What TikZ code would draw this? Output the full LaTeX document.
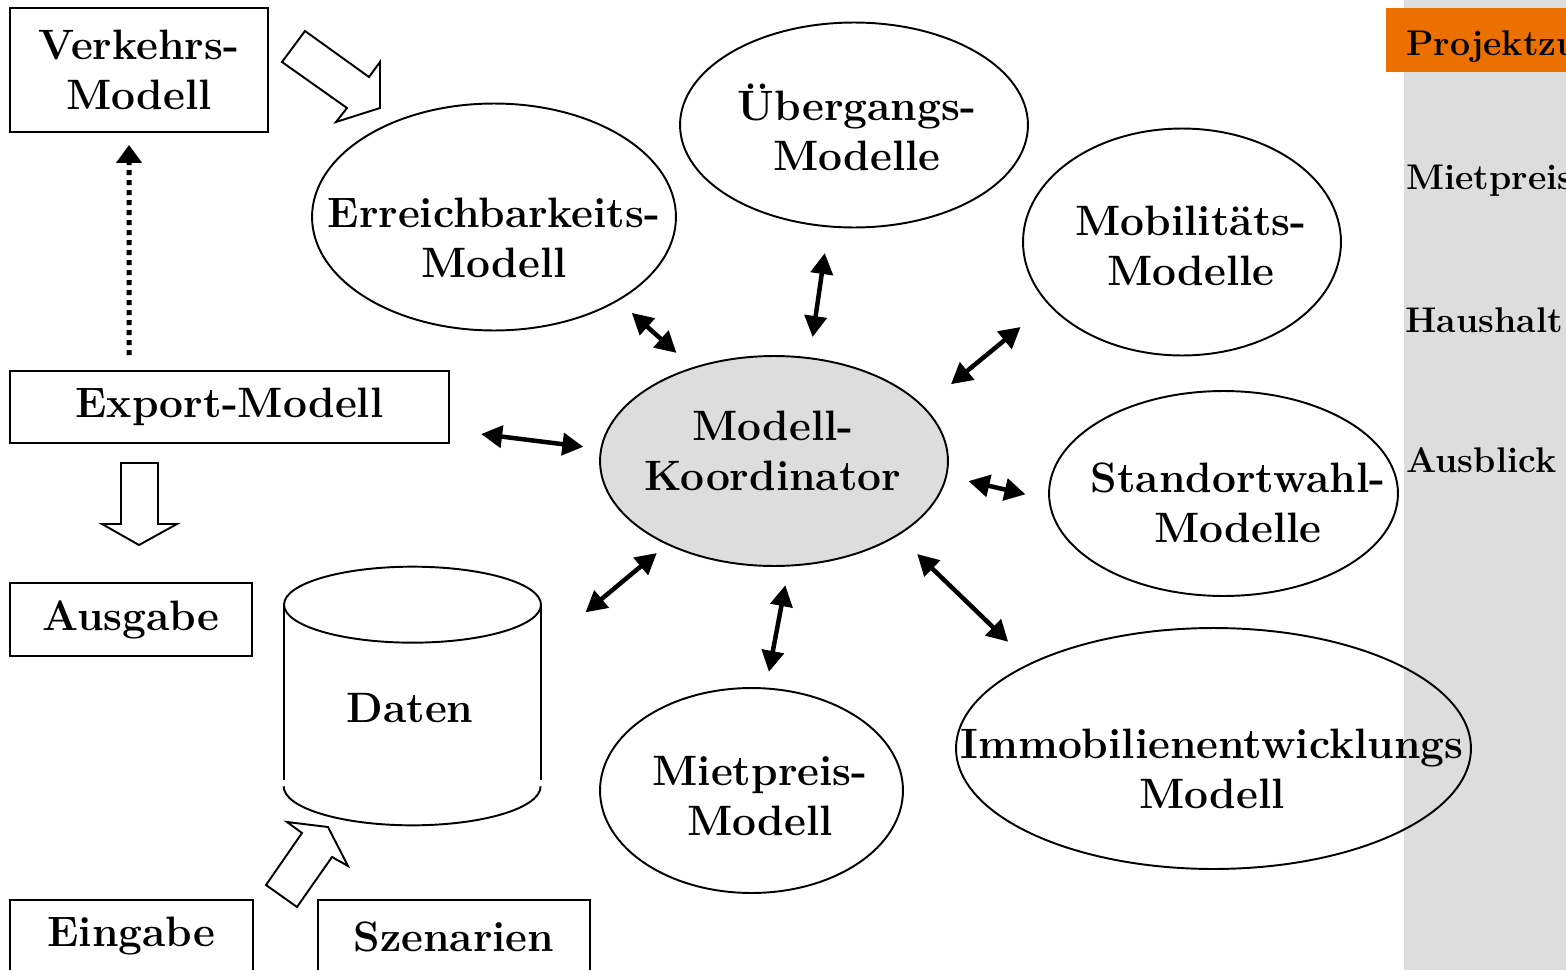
\documentclass[tikz,border=0pt]{standalone}
\usepackage{tikz}
\usetikzlibrary{positioning, arrows.meta, shapes.geometric}
\definecolor{boxgrey}{RGB}{221,221,221}
\definecolor{sidegrey}{RGB}{221,221,221}
\definecolor{slideorange}{RGB}{236,112,0}
\newcommand{\modfont}{\bfseries\fontsize{24.2}{28.5}\selectfont}
\tikzset{
    modellbox/.style={rectangle, draw, line width=1.1pt, font=\modfont, align=center, inner sep=0pt},
    modell/.style={ellipse, draw, line width=1.1pt, inner sep=0pt},
    modelltxt/.style={font=\modfont, align=center, inner sep=0pt},
    datenbank/.style={rectangle, inner sep=0pt},
    dbline/.style={line width=1.1pt},
    dblarr/.style={{Triangle[length=0.42cm, width=0.44cm]}-{Triangle[length=0.42cm, width=0.44cm]}, line width=0.09cm},
    dotarr/.style={-{Triangle[length=0.36cm, width=0.5cm]}, line width=0.1cm, dash pattern=on 0.1cm off 0.1cm},
    blockarr/.style={draw, line width=1.1pt, line join=miter},
    sidetxt/.style={font=\bfseries\fontsize{20.3}{24}\selectfont, anchor=base west, inner sep=0pt}
}

\begin{document}
\begin{tikzpicture}[x=0.02cm, y=-0.02cm]
    \useasboundingbox (0,0) rectangle (1566,970);

    % Sidebar of the slide
    \fill[sidegrey] (1404,0) rectangle (1566,970);
    \fill[slideorange] (1386,8) rectangle (1566,72);
    \node[sidetxt] (side1) at (1406,55) {Projektzu};
    \node[sidetxt] (side2) at (1406,189) {Mietpreis};
    \node[sidetxt] (side3) at (1405,332) {Haushalt};
    \node[sidetxt] (side4) at (1406,472) {Ausblick};

    % Boxes on the left
    \node[modellbox, minimum width=5.16cm, minimum height=2.48cm] (verkehrs) at (139,70) {Verkehrs-\\Modell};
    \node[modellbox, minimum width=8.78cm, minimum height=1.44cm] (export) at (229.5,407) {Export-Modell};
    \node[modellbox, minimum width=4.84cm, minimum height=1.46cm] (ausgabe) at (131,619.5) {Ausgabe};
    \node[modellbox, minimum width=4.86cm, minimum height=1.46cm] (eingabe) at (131.5,936.5) {Eingabe};
    \node[modellbox, minimum width=5.44cm, minimum height=1.46cm] (szenarien) at (454,936.5) {Szenarien};

    % Model ellipses
    \node[modell, minimum width=7.28cm, minimum height=4.54cm] (erreich) at (494,217) {};
    \node[modell, minimum width=6.96cm, minimum height=4.10cm] (uebergang) at (854,125) {};
    \node[modell, minimum width=6.36cm, minimum height=4.54cm] (mobil) at (1182,242) {};
    \node[modell, fill=boxgrey, minimum width=6.96cm, minimum height=4.20cm] (koord) at (774,461) {};
    \node[modell, minimum width=6.98cm, minimum height=4.10cm] (standort) at (1223.5,493.5) {};
    \node[modell, minimum width=10.30cm, minimum height=4.82cm] (immo) at (1213.5,748.5) {};
    \node[modell, minimum width=6.06cm, minimum height=4.10cm] (mietpreis) at (751.5,790.5) {};

    % Data store
    \node[datenbank, minimum width=5.14cm, minimum height=5.16cm] (daten) at (412.5,696) {};
    \draw[dbline] ([yshift=-0.76cm]daten.north) ellipse [x radius=2.57cm, y radius=0.76cm];
    \draw[dbline] ([yshift=-0.76cm]daten.north west) -- ([yshift=0.9cm]daten.south west);
    \draw[dbline] ([yshift=-0.76cm]daten.north east) -- ([yshift=0.9cm]daten.south east);
    \draw[dbline] ([yshift=0.78cm]daten.south west) arc [start angle=180, end angle=360, x radius=2.57cm, y radius=0.78cm];

    \node[modelltxt] (erreichtxt) at (494,238) {Erreichbarkeits-\\Modell};
    \node[modelltxt] (uebergangtxt) at (857,127) {Übergangs-\\Modelle};
    \node[modelltxt] (mobiltxt) at (1191,246) {Mobilitäts-\\Modelle};
    \node[modelltxt] (koordtxt) at (773,451) {Modell-\\Koordinator};
    \node[modelltxt] (standorttxt) at (1238,503) {Standortwahl-\\Modelle};
    \node[modelltxt] (immotxt) at (1212,769) {Immobilienentwicklungs\\Modell};
    \node[modelltxt] (mietpreistxt) at (760,796) {Mietpreis-\\Modell};
    \node[modelltxt] (datentxt) at (410,708) {Daten};

    % Links to the coordinator
    \draw[dblarr, shorten <=0.36cm, shorten >=0.43cm] (erreich.326.6) -- (koord.131.8);
    \draw[dblarr, shorten <=0.52cm, shorten >=0.41cm] (uebergang.256.8) -- (koord.71.3);
    \draw[dblarr, shorten <=0.71cm, shorten >=0.70cm] (mobil.205.5) -- (koord.20);
    \draw[dblarr, shorten <=0.63cm, shorten >=0.34cm] (export.354.8) -- (koord.176.9);
    \draw[dblarr, shorten <=0.44cm, shorten >=0.47cm] (koord.355.4) -- (standort.182.1);
    \draw[dblarr, shorten <=0.26cm, shorten >=1.15cm] (koord.218.9) -- (daten.20.5);
    \draw[dblarr, shorten <=0.38cm, shorten >=0.32cm] (koord.278.6) -- (mietpreis.82.3);
    \draw[dblarr, shorten <=0.53cm, shorten >=0.61cm] (koord.329.6) -- (immo.155.2);

    % Dotted link back to the traffic model
    \draw[dotarr, shorten <=0.3cm, shorten >=0.24cm] ([xshift=2.4cm]export.north west) -- ([xshift=2.4cm]verkehrs.south west);

    % Block arrows
    \draw[blockarr] (305,31) -- (369,77) -- (380,62) -- (380,108) -- (336,122) -- (347,108) -- (282,62) -- cycle;
    \draw[blockarr] (121,463) -- (158,463) -- (158,524) -- (177,524) -- (139,545) -- (102,524) -- (121,524) -- cycle;
    \draw[blockarr] (266,885) -- (302,833) -- (287,822) -- (328,827) -- (348,866) -- (332,857) -- (297,907) -- cycle;
\end{tikzpicture}
\end{document}
